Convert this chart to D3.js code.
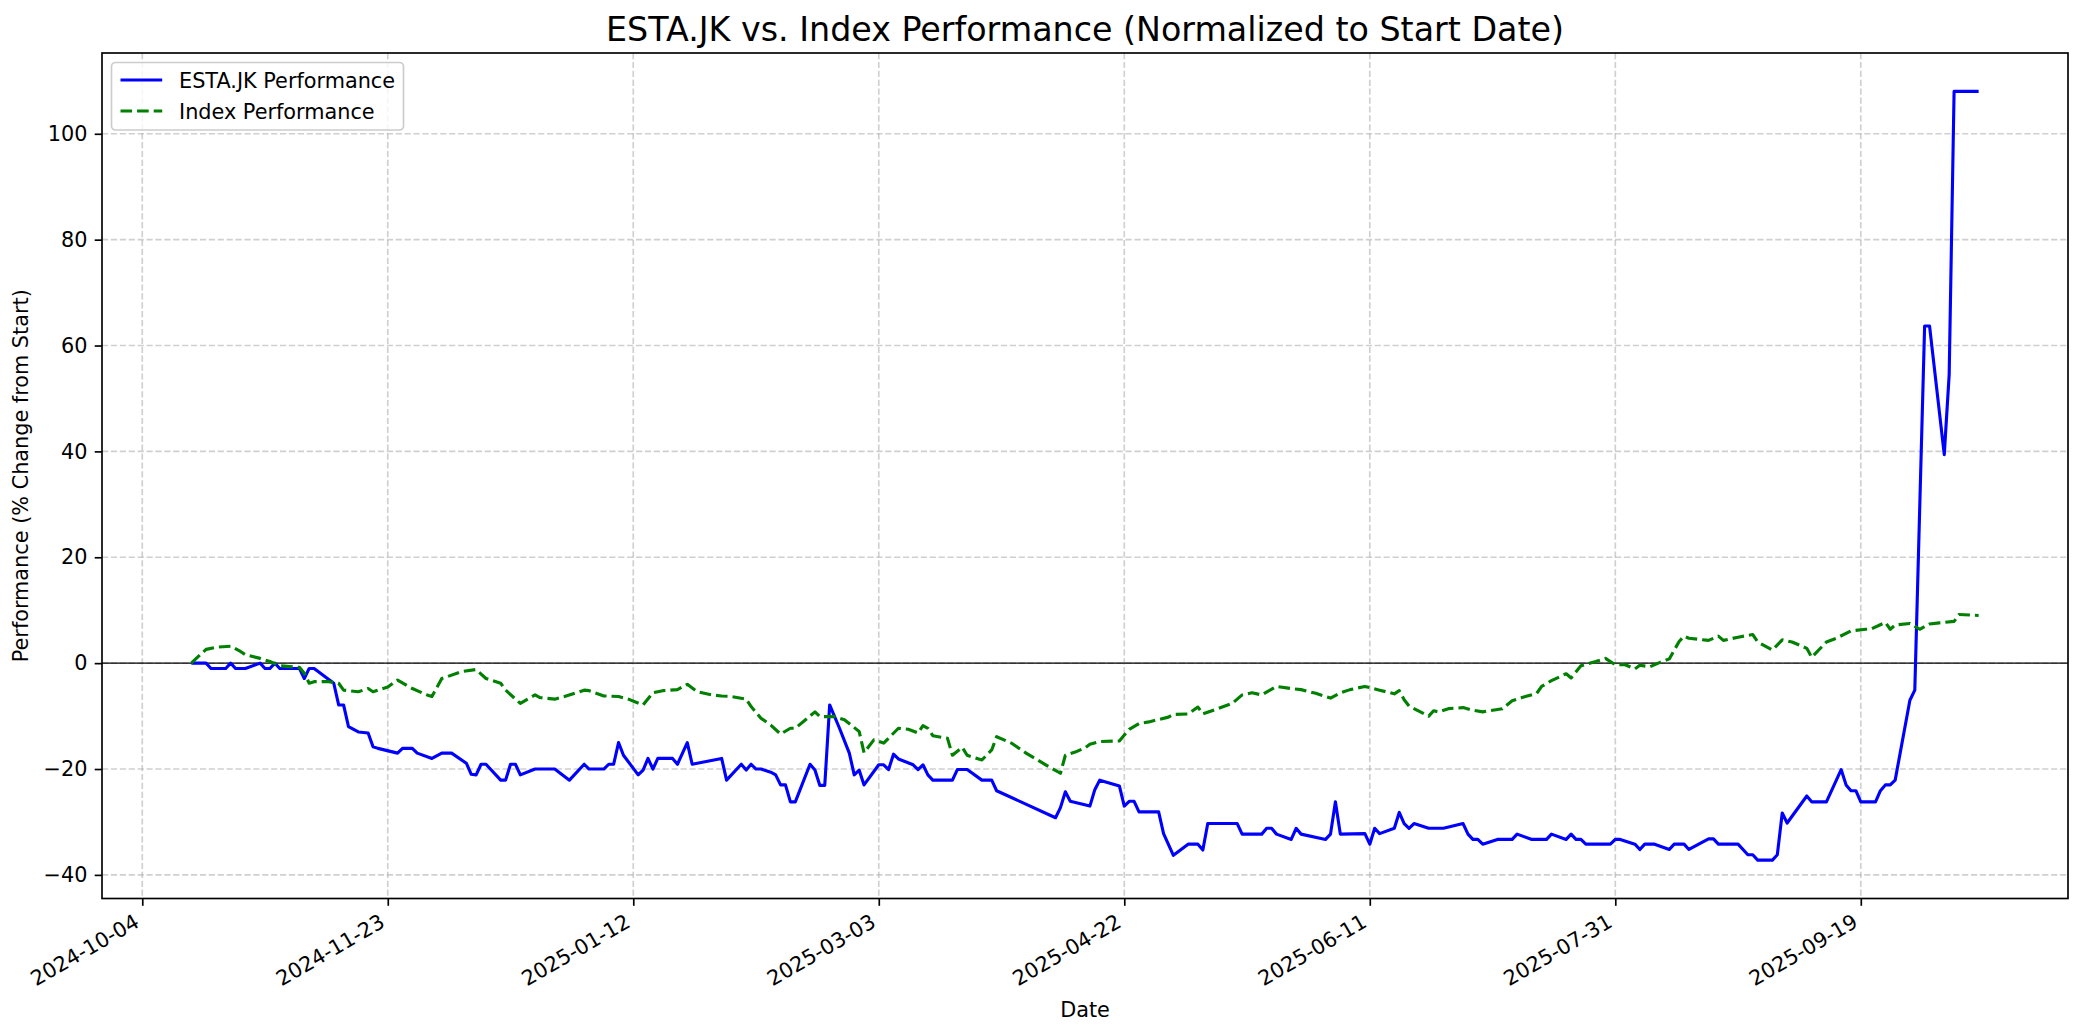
<!DOCTYPE html>
<html>
<head>
    <meta charset="utf-8">
    <title>ESTA.JK vs. Index Performance</title>
    <script src="https://d3js.org/d3.v7.min.js"></script>
    <style>
        body { margin: 0; background: #fff; }
        svg text { font-family: "DejaVu Sans", sans-serif; fill: #000; }
    </style>
    <script>
        // ESTA.JK, % change from start date
        estaDates = [
            "2024-10-14","2024-10-17","2024-10-18","2024-10-21","2024-10-22","2024-10-23","2024-10-25","2024-10-28",
            "2024-10-29","2024-10-30","2024-10-31","2024-11-01","2024-11-05","2024-11-06","2024-11-07","2024-11-08",
            "2024-11-12","2024-11-13","2024-11-14","2024-11-15","2024-11-17","2024-11-19","2024-11-20","2024-11-21",
            "2024-11-25","2024-11-26","2024-11-28","2024-11-29","2024-12-02","2024-12-04","2024-12-06","2024-12-09",
            "2024-12-10","2024-12-11","2024-12-12","2024-12-13","2024-12-16","2024-12-17","2024-12-18","2024-12-19",
            "2024-12-20","2024-12-23","2024-12-27","2024-12-30","2025-01-02","2025-01-03","2025-01-06","2025-01-07",
            "2025-01-08","2025-01-09","2025-01-10","2025-01-13","2025-01-14","2025-01-15","2025-01-16","2025-01-17",
            "2025-01-20","2025-01-21","2025-01-23","2025-01-24","2025-01-30","2025-01-31","2025-02-03","2025-02-04",
            "2025-02-05","2025-02-06","2025-02-07","2025-02-09","2025-02-10","2025-02-11","2025-02-12","2025-02-13",
            "2025-02-14","2025-02-17","2025-02-18","2025-02-19","2025-02-20","2025-02-21","2025-02-23","2025-02-25",
            "2025-02-26","2025-02-27","2025-02-28","2025-03-03","2025-03-04","2025-03-05","2025-03-06","2025-03-07",
            "2025-03-10","2025-03-11","2025-03-12","2025-03-13","2025-03-14","2025-03-18","2025-03-19","2025-03-21",
            "2025-03-24","2025-03-26","2025-03-27","2025-04-08","2025-04-09","2025-04-10","2025-04-11","2025-04-15",
            "2025-04-16","2025-04-17","2025-04-21","2025-04-22","2025-04-23","2025-04-24","2025-04-25","2025-04-29",
            "2025-04-30","2025-05-02","2025-05-05","2025-05-07","2025-05-08","2025-05-09","2025-05-15","2025-05-16",
            "2025-05-20","2025-05-21","2025-05-22","2025-05-23","2025-05-26","2025-05-27","2025-05-28","2025-06-02",
            "2025-06-03","2025-06-04","2025-06-05","2025-06-10","2025-06-11","2025-06-12","2025-06-13","2025-06-16",
            "2025-06-17","2025-06-18","2025-06-19","2025-06-20","2025-06-23","2025-06-26","2025-06-30","2025-07-01",
            "2025-07-02","2025-07-03","2025-07-04","2025-07-07","2025-07-10","2025-07-11","2025-07-14","2025-07-17",
            "2025-07-18","2025-07-21","2025-07-22","2025-07-23","2025-07-24","2025-07-25","2025-07-30","2025-07-31",
            "2025-08-01","2025-08-04","2025-08-05","2025-08-06","2025-08-08","2025-08-11","2025-08-12","2025-08-14",
            "2025-08-15","2025-08-19","2025-08-20","2025-08-21","2025-08-25","2025-08-27","2025-08-28","2025-08-29",
            "2025-09-01","2025-09-02","2025-09-03","2025-09-04","2025-09-08","2025-09-09","2025-09-12","2025-09-15",
            "2025-09-16","2025-09-17","2025-09-18","2025-09-19","2025-09-22","2025-09-23","2025-09-24","2025-09-25",
            "2025-09-26","2025-09-29","2025-09-30","2025-10-02","2025-10-03","2025-10-06","2025-10-07","2025-10-08",
            "2025-10-13"
        ];
        estaValues = [
            0, 0, -1.0, -1.0, 0, -1.0, -1.0, 0,
            -1.0, -1.0, 0, -1.0, -1.0, -2.9, -1.0, -1.0,
            -3.8, -7.9, -7.9, -12.0, -13.0, -13.2, -15.8, -16.1,
            -17.0, -16.1, -16.1, -17.0, -18.0, -17.0, -17.0, -18.9,
            -21.0, -21.1, -19.1, -19.1, -22.1, -22.1, -19.1, -19.1,
            -21.1, -20.0, -20.0, -22.1, -19.1, -20.0, -20.0, -19.1,
            -19.1, -15.0, -17.4, -21.1, -20.2, -18.0, -20.0, -18.0,
            -18.0, -19.1, -15.0, -19.1, -18.0, -22.1, -19.1, -20.2,
            -19.1, -20.0, -20.0, -20.6, -21.1, -23.0, -23.0, -26.2,
            -26.2, -19.1, -20.2, -23.1, -23.1, -7.9, -12.3, -17.0,
            -21.1, -20.2, -23.0, -19.2, -19.2, -20.1, -17.2, -18.1,
            -19.2, -20.1, -19.2, -21.1, -22.1, -22.1, -20.1, -20.1,
            -22.1, -22.1, -24.1, -29.2, -27.3, -24.3, -26.1, -27.0,
            -23.9, -22.1, -23.2, -27.0, -26.1, -26.1, -28.1, -28.1,
            -32.2, -36.3, -34.2, -34.2, -35.3, -30.3, -30.3, -32.3,
            -32.3, -31.2, -31.2, -32.3, -33.3, -31.2, -32.3, -33.3,
            -32.3, -26.2, -32.3, -32.2, -34.2, -31.2, -32.2, -31.2,
            -28.2, -30.3, -31.2, -30.3, -31.2, -31.2, -30.3, -32.3,
            -33.3, -33.3, -34.2, -33.3, -33.3, -32.3, -33.3, -33.3,
            -32.3, -33.3, -32.3, -33.3, -33.3, -34.2, -34.2, -33.3,
            -33.3, -34.2, -35.2, -34.2, -34.2, -35.2, -34.2, -34.2,
            -35.2, -33.2, -33.2, -34.2, -34.2, -36.2, -36.2, -37.2,
            -37.2, -36.2, -28.3, -30.2, -25.1, -26.2, -26.2, -20.1,
            -23.0, -24.1, -24.1, -26.2, -26.2, -24.1, -23.0, -23.0,
            -22.1, -7.0, -5.1, 63.7, 63.7, 39.4, 54.5, 108.0,
            108.0
        ];

        // benchmark index, % change from start date
        indexDates = [
            "2024-10-14","2024-10-15","2024-10-17","2024-10-19","2024-10-22","2024-10-24","2024-10-25","2024-10-28",
            "2024-10-30","2024-11-01","2024-11-05","2024-11-06","2024-11-07","2024-11-08","2024-11-11","2024-11-13",
            "2024-11-14","2024-11-17","2024-11-19","2024-11-20","2024-11-23","2024-11-25","2024-11-28","2024-12-01",
            "2024-12-02","2024-12-04","2024-12-05","2024-12-08","2024-12-11","2024-12-13","2024-12-16","2024-12-17",
            "2024-12-20","2024-12-23","2024-12-24","2024-12-27","2024-12-29","2025-01-02","2025-01-03","2025-01-06",
            "2025-01-09","2025-01-11","2025-01-14","2025-01-16","2025-01-18","2025-01-21","2025-01-23","2025-01-25",
            "2025-01-28","2025-01-30","2025-02-01","2025-02-04","2025-02-05","2025-02-07","2025-02-09","2025-02-11",
            "2025-02-13","2025-02-14","2025-02-18","2025-02-19","2025-02-22","2025-02-24","2025-02-27","2025-02-28",
            "2025-03-02","2025-03-04","2025-03-07","2025-03-09","2025-03-11","2025-03-12","2025-03-13","2025-03-14",
            "2025-03-17","2025-03-18","2025-03-20","2025-03-21","2025-03-24","2025-03-26","2025-03-27","2025-03-30",
            "2025-04-02","2025-04-06","2025-04-09","2025-04-10","2025-04-12","2025-04-14","2025-04-15","2025-04-17",
            "2025-04-21","2025-04-23","2025-04-25","2025-04-27","2025-05-01","2025-05-02","2025-05-05","2025-05-07",
            "2025-05-08","2025-05-11","2025-05-14","2025-05-16","2025-05-18","2025-05-20","2025-05-23","2025-05-26",
            "2025-05-28","2025-05-31","2025-06-03","2025-06-05","2025-06-07","2025-06-10","2025-06-13","2025-06-16",
            "2025-06-17","2025-06-18","2025-06-19","2025-06-23","2025-06-24","2025-06-25","2025-06-27","2025-06-30",
            "2025-07-02","2025-07-04","2025-07-08","2025-07-10","2025-07-12","2025-07-15","2025-07-16","2025-07-18",
            "2025-07-21","2025-07-22","2025-07-24","2025-07-27","2025-07-29","2025-07-31","2025-08-02","2025-08-04",
            "2025-08-05","2025-08-07","2025-08-09","2025-08-11","2025-08-13","2025-08-14","2025-08-15","2025-08-19",
            "2025-08-21","2025-08-22","2025-08-25","2025-08-28","2025-08-29","2025-09-01","2025-09-03","2025-09-05",
            "2025-09-08","2025-09-09","2025-09-12","2025-09-14","2025-09-17","2025-09-20","2025-09-21","2025-09-24",
            "2025-09-25","2025-09-26","2025-09-29","2025-10-01","2025-10-03","2025-10-05","2025-10-08","2025-10-09",
            "2025-10-13"
        ];
        indexValues = [
            0, 0.9, 2.6, 3.0, 3.2, 2.2, 1.6, 0.9,
            0.3, -0.5, -0.8, -1.9, -3.8, -3.5, -3.5, -3.8,
            -5.1, -5.4, -4.8, -5.4, -4.5, -3.2, -4.8, -6.0,
            -6.3, -2.9, -2.6, -1.6, -1.2, -2.9, -3.8, -5.1,
            -7.6, -6.0, -6.5, -6.8, -6.3, -5.1, -5.2, -6.2,
            -6.3, -6.8, -7.9, -5.6, -5.2, -5.0, -4.0, -5.4,
            -6.0, -6.2, -6.3, -6.8, -8.2, -10.4, -11.7, -13.4,
            -12.3, -12.3, -9.2, -10.1, -10.1, -10.7, -12.9, -16.9,
            -14.5, -15.1, -12.3, -12.5, -13.2, -11.8, -12.3, -13.7,
            -14.2, -17.4, -15.9, -17.4, -18.3, -16.4, -13.9, -15.1,
            -17.0, -19.2, -20.8, -17.4, -16.8, -16.0, -15.3, -14.8,
            -14.7, -12.5, -11.4, -11.1, -10.2, -9.7, -9.6, -8.3,
            -9.6, -8.6, -7.6, -6.0, -5.6, -6.0, -4.4, -4.8,
            -5.0, -5.7, -6.6, -5.6, -5.0, -4.4, -5.1, -5.8,
            -5.2, -6.9, -8.1, -10.0, -9.0, -9.2, -8.6, -8.4,
            -8.9, -9.2, -8.6, -7.1, -6.5, -5.7, -4.4, -3.3,
            -2.0, -2.8, -0.5, 0.3, 0.9, -0.3, -0.3, -1.1,
            -0.4, -0.7, 0.1, 0.8, 4.1, 5.1, 4.7, 4.3,
            5.1, 4.3, 4.9, 5.4, 4.0, 2.5, 4.4, 4.0,
            2.8, 1.1, 4.0, 4.7, 6.1, 6.4, 6.4, 7.7,
            6.4, 7.2, 7.5, 6.4, 7.4, 7.6, 7.9, 9.2,
            9.0
        ];

        xTickLabels = ["2024-10-04","2024-11-23","2025-01-12","2025-03-03","2025-04-22","2025-06-11","2025-07-31","2025-09-19"];
        yTicks = [-40, -20, 0, 20, 40, 60, 80, 100];

        width = 2084;
        height = 1035;
        plot = { left: 102, right: 2068, top: 53, bottom: 898.5 };
        fontSize = 20.8;

        window.onload = function() {
            parse = d3.utcParse("%Y-%m-%d");

            esta = estaDates.map(function(d, i) { return { date: parse(d), value: estaValues[i] }; });
            index = indexDates.map(function(d, i) { return { date: parse(d), value: indexValues[i] }; });
            all = esta.concat(index);

            // matplotlib-like 5% margins
            xExt = d3.extent(all, function(d) { return d.date.getTime(); });
            xPad = (xExt[1] - xExt[0]) * 0.05;
            yExt = d3.extent(all, function(d) { return d.value; });
            yPad = (yExt[1] - yExt[0]) * 0.05;

            x = d3.scaleUtc()
                .domain([new Date(xExt[0] - xPad), new Date(xExt[1] + xPad)])
                .range([plot.left, plot.right]);
            y = d3.scaleLinear()
                .domain([yExt[0] - yPad, yExt[1] + yPad])
                .range([plot.bottom, plot.top]);

            xTicks = xTickLabels.map(parse);

            svg = d3.select("#chart")
                .append("svg")
                    .attr("width", width)
                    .attr("height", height);

            svg.append("rect").attr("width", width).attr("height", height).attr("fill", "#fff");

            svg.append("defs").append("clipPath").attr("id", "clip")
                .append("rect")
                    .attr("x", plot.left).attr("y", plot.top)
                    .attr("width", plot.right - plot.left)
                    .attr("height", plot.bottom - plot.top);

            // grid
            grid = svg.append("g")
                .attr("stroke", "#b0b0b0")
                .attr("stroke-opacity", 0.6)
                .attr("stroke-width", 1.67)
                .attr("stroke-dasharray", "6.2,2.7");
            grid.selectAll(".gx").data(xTicks).enter().append("line")
                .attr("x1", function(d) { return x(d); }).attr("x2", function(d) { return x(d); })
                .attr("y1", plot.top).attr("y2", plot.bottom);
            grid.selectAll(".gy").data(yTicks).enter().append("line")
                .attr("x1", plot.left).attr("x2", plot.right)
                .attr("y1", function(d) { return y(d); }).attr("y2", function(d) { return y(d); });

            lines = svg.append("g").attr("clip-path", "url(#clip)");

            // zero reference
            lines.append("line")
                .attr("x1", plot.left).attr("x2", plot.right)
                .attr("y1", y(0)).attr("y2", y(0))
                .attr("stroke", "#000")
                .attr("stroke-width", 1.1);

            line = d3.line()
                .x(function(d) { return x(d.date); })
                .y(function(d) { return y(d.value); });

            lines.append("path")
                .datum(esta)
                .attr("fill", "none")
                .attr("stroke", "blue")
                .attr("stroke-width", 3.125)
                .attr("stroke-linejoin", "round")
                .attr("d", line);

            lines.append("path")
                .datum(index)
                .attr("fill", "none")
                .attr("stroke", "green")
                .attr("stroke-width", 3.125)
                .attr("stroke-linejoin", "round")
                .attr("stroke-dasharray", "11.6,5")
                .attr("d", line);

            // axes
            xAxis = svg.append("g")
                .attr("transform", `translate(0,${plot.bottom})`)
                .call(d3.axisBottom(x)
                    .tickValues(xTicks)
                    .tickFormat(d3.utcFormat("%Y-%m-%d"))
                    .tickSize(7.3)
                    .tickSizeOuter(0));
            xAxis.select(".domain").remove();
            xAxis.selectAll(".tick line").attr("stroke", "#000").attr("stroke-width", 1.67);
            xAxis.selectAll(".tick text")
                .attr("x", 0).attr("y", 0).attr("dy", null)
                .attr("text-anchor", "end")
                .attr("transform", "translate(-2,27.5) rotate(-30)")
                .style("font-size", fontSize + "px");

            yAxis = svg.append("g")
                .attr("transform", `translate(${plot.left},0)`)
                .call(d3.axisLeft(y)
                    .tickValues(yTicks)
                    .tickFormat(d3.format("d"))
                    .tickSize(7.3)
                    .tickPadding(7.3)
                    .tickSizeOuter(0));
            yAxis.select(".domain").remove();
            yAxis.selectAll(".tick line").attr("stroke", "#000").attr("stroke-width", 1.67);
            yAxis.selectAll(".tick text").style("font-size", fontSize + "px");
            svg.selectAll(".tick text").attr("font-family", null);

            // spines
            svg.append("rect")
                .attr("x", plot.left).attr("y", plot.top)
                .attr("width", plot.right - plot.left)
                .attr("height", plot.bottom - plot.top)
                .attr("fill", "none")
                .attr("stroke", "#000")
                .attr("stroke-width", 1.67);

            // labels
            svg.append("text")
                .attr("x", (plot.left + plot.right) / 2).attr("y", 40.5)
                .attr("text-anchor", "middle")
                .style("font-size", "33.3px")
                .text("ESTA.JK vs. Index Performance (Normalized to Start Date)");

            svg.append("text")
                .attr("x", (plot.left + plot.right) / 2).attr("y", 1017)
                .attr("text-anchor", "middle")
                .style("font-size", fontSize + "px")
                .text("Date");

            svg.append("text")
                .attr("transform", `translate(28,${(plot.top + plot.bottom) / 2}) rotate(-90)`)
                .attr("text-anchor", "middle")
                .style("font-size", fontSize + "px")
                .text("Performance (% Change from Start)");

            // legend
            legend = svg.append("g").attr("transform", "translate(111.5,62.5)");
            legend.append("rect")
                .attr("width", 292).attr("height", 67.5)
                .attr("rx", 4).attr("ry", 4)
                .attr("fill", "#fff").attr("fill-opacity", 0.8)
                .attr("stroke", "#cccccc").attr("stroke-width", 1.67);

            legendItems = [
                { label: "ESTA.JK Performance", color: "blue", dash: null },
                { label: "Index Performance", color: "green", dash: "11.6,5" }
            ];
            item = legend.selectAll(".item").data(legendItems).enter().append("g")
                .attr("transform", function(d, i) { return `translate(0,${17.5 + i * 31})`; });
            item.append("line")
                .attr("x1", 9).attr("x2", 50.7)
                .attr("stroke", function(d) { return d.color; })
                .attr("stroke-width", 3.125)
                .attr("stroke-dasharray", function(d) { return d.dash; });
            item.append("text")
                .attr("x", 67.5).attr("y", 7.8)
                .style("font-size", fontSize + "px")
                .text(function(d) { return d.label; });
        }
    </script>
</head>
<body>
    <div id="chart"></div>
</body>
</html>
